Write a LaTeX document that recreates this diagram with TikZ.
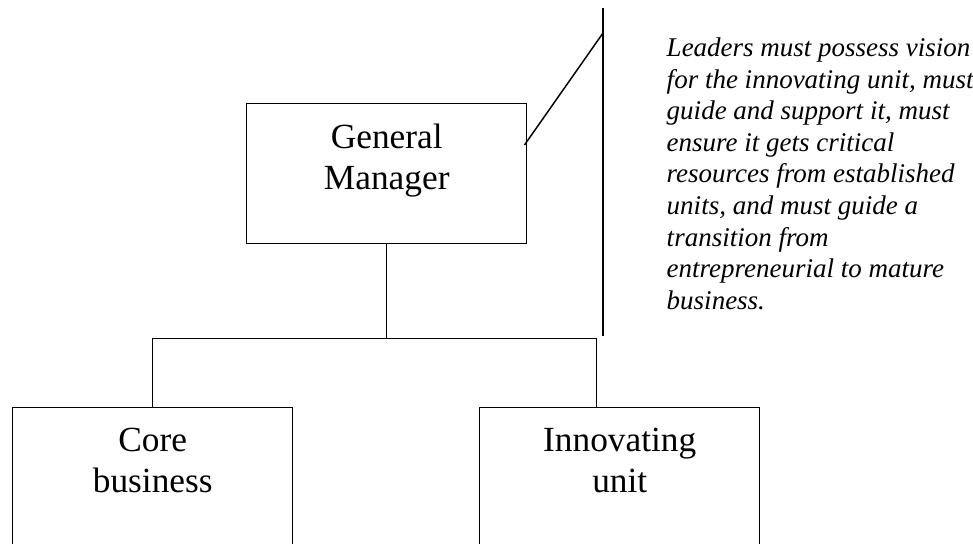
\documentclass[tikz,border=0pt]{standalone}
\usepackage{fontspec}
\setmainfont{Liberation Serif}
\usepackage{tikz}
\usetikzlibrary{positioning,calc}

\begin{document}
\begin{tikzpicture}[x=0.75pt,y=-0.75pt,line width=1.1pt,
    unitbox/.style={draw,rectangle,minimum width=210pt,minimum height=105pt,inner sep=0pt},
    unitlabel/.style={anchor=north,inner sep=0pt,yshift=-15pt,align=center,
      font=\fontsize{26.5}{30.75}\selectfont}]
  \useasboundingbox (0,0) rectangle (973,543);
  \clip (0,0) rectangle (973,543);
    %\node[unitbox] (gm) at (386,173) {};
    \node[unitbox,anchor=north west] (gm) at (246,103)
      [label={[unitlabel]north:{General\\Manager}}] {};
    \node[unitbox,anchor=north west] (core) at (12,407)
      [label={[unitlabel]north:{Core\\business}}] {};
    \node[unitbox,anchor=north west] (innov) at (479,407)
      [label={[unitlabel]north:{Innovating\\unit}}] {};
    \node[anchor=north west,inner sep=0pt,align=left,
      font=\fontsize{20.25}{23.7}\selectfont\itshape] (note) at (666,37)
      {Leaders must possess vision\\
       for the innovating unit, must\\
       guide and support it, must\\
       ensure it gets critical\\
       resources from established\\
       units, and must guide a\\
       transition from\\
       entrepreneurial to mature\\
       business.};
  \coordinate (fork) at ($(gm.south)+(0,94)$);
  \coordinate (bartop) at (603,8);
  \coordinate (barbot) at (603,336);
  \coordinate (elbow) at (603,33);
  \coordinate (pointer) at ($(gm.north east)+(-3,42)$);
	\draw[-] (gm.south) to (fork);
	\draw[-] (core.north) |- (fork) -| ([xshift=-17.25pt]innov.north);
	\draw[-] (bartop) to (barbot);
	\draw[-] (elbow) to (pointer);
\end{tikzpicture}
\end{document}
